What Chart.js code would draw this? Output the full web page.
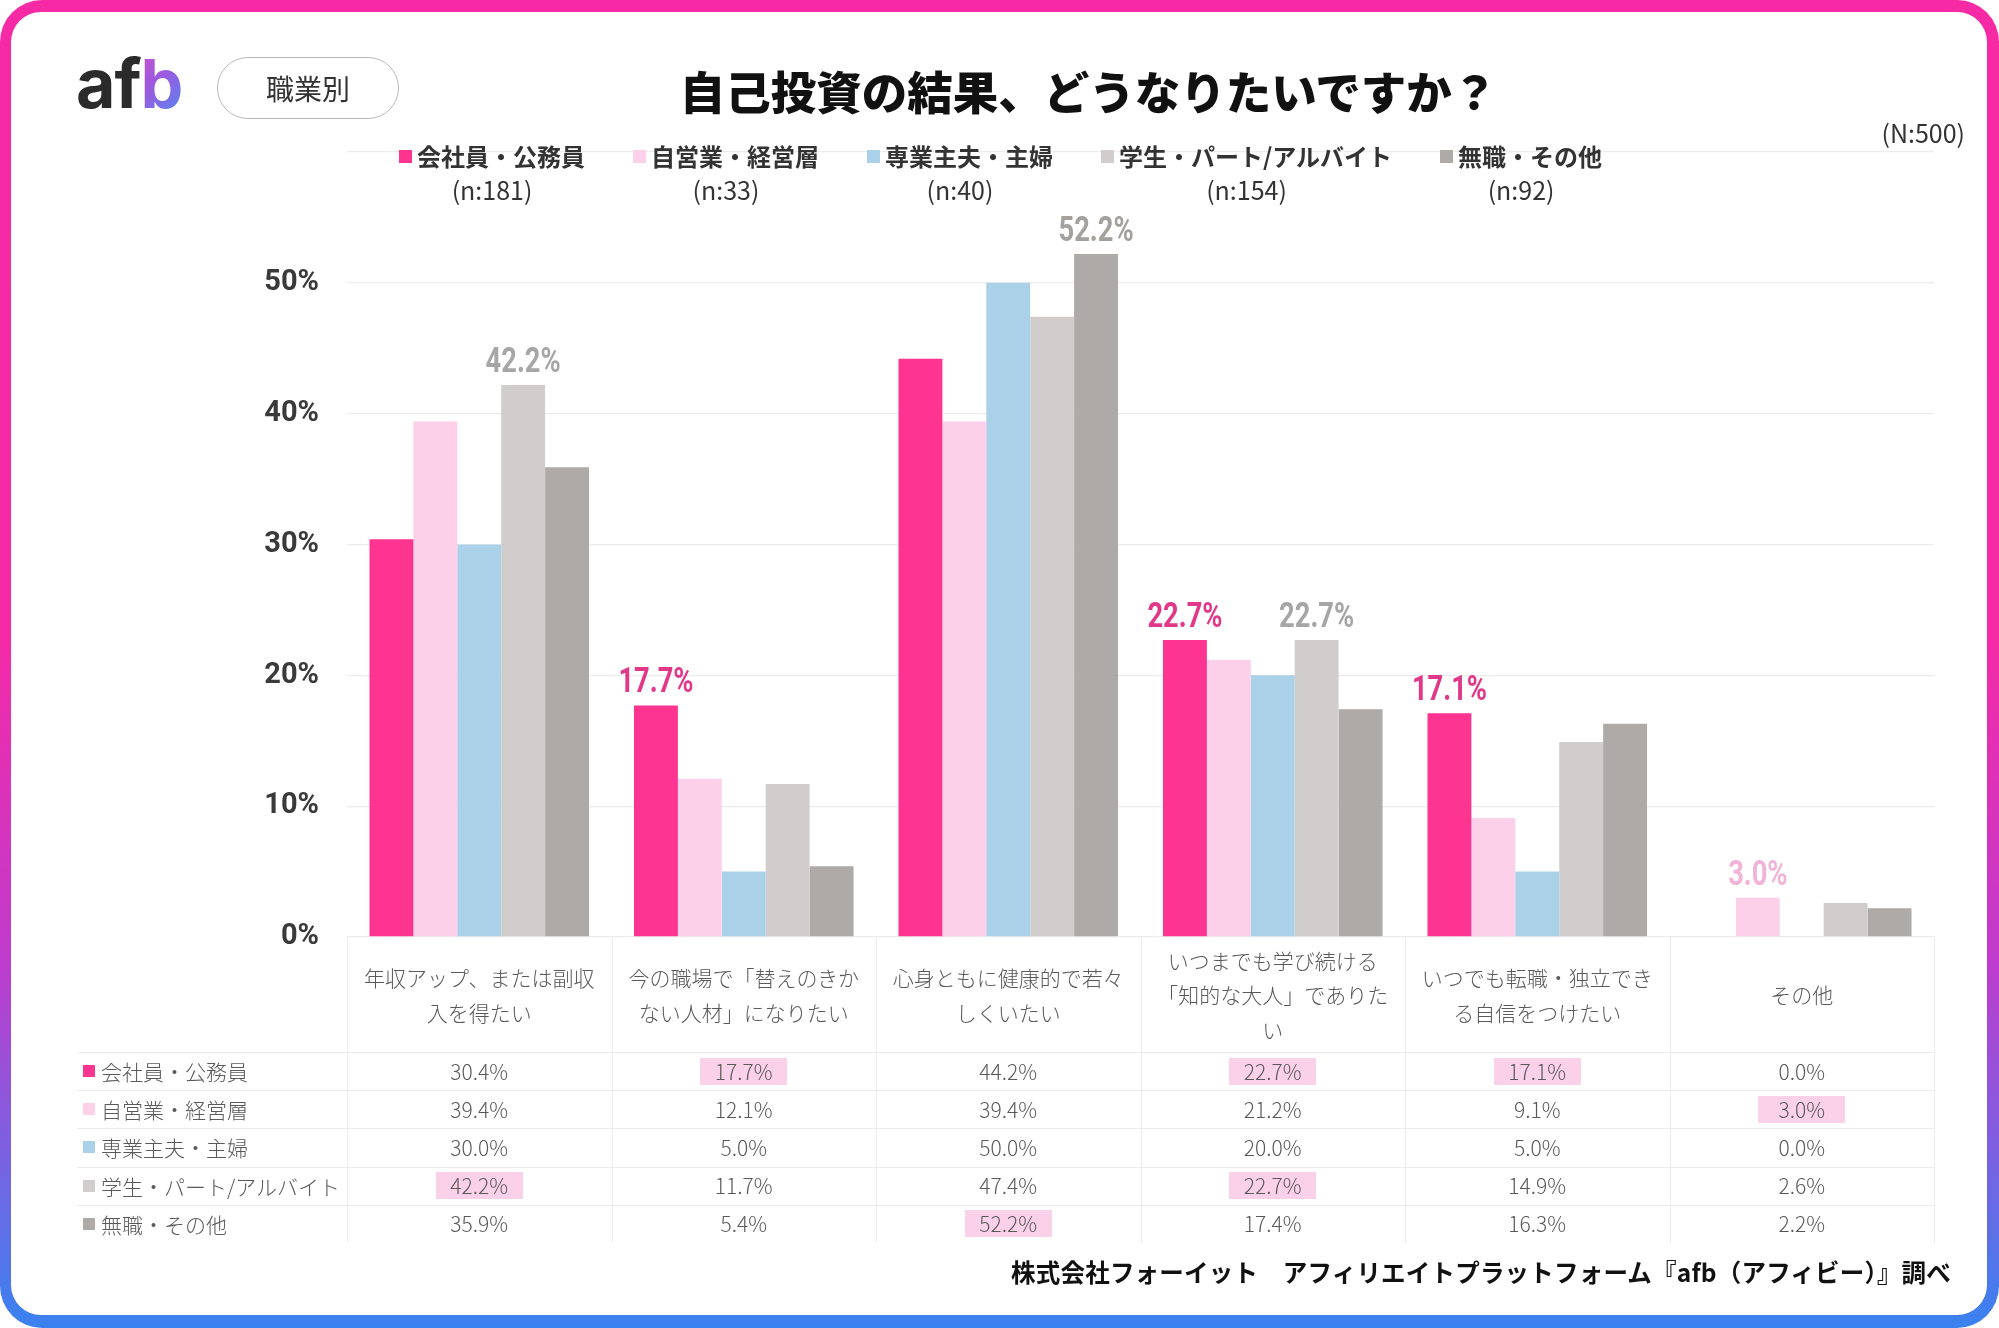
<!DOCTYPE html>
<html lang="ja"><head><meta charset="utf-8">
<script src="https://cdn.jsdelivr.net/npm/chart.js@4.4.1/dist/chart.umd.min.js"></script>
<style>
html,body{margin:0;padding:0;background:#fff;width:1999px;height:1328px;overflow:hidden;font-family:"Noto Sans CJK JP","Noto Sans",sans-serif;}
#frame{position:absolute;left:0;top:0;width:1999px;height:1328px;border-radius:42px;
  background:linear-gradient(to bottom,#f72aa5 0%,#f52aa7 48%,#c03bcc 72%,#7f5fe0 86%,#3a82f0 100%);}
#card{position:absolute;left:11px;top:12px;right:12px;bottom:13px;background:#fff;border-radius:30px;}
#c{position:absolute;left:0;top:0;}
.abs{position:absolute;}
#logo{left:76px;top:38px;font-family:Inter,Lato,sans-serif;font-weight:700;font-size:68px;line-height:90px;color:#2b2b2b;letter-spacing:-1px;}
#logo b{font-weight:700;background:linear-gradient(135deg,#d04fc8 0%,#9b5ae0 45%,#4a8ef2 100%);-webkit-background-clip:text;background-clip:text;color:transparent;}
#pill{left:217px;top:57px;width:180px;height:60px;border:1.5px solid #b8b8b8;border-radius:32px;display:flex;align-items:center;justify-content:center;font-size:28px;color:#333;}
#title{left:0;width:1999px;top:60px;text-align:center;padding-left:178px;box-sizing:border-box;font-size:45.5px;font-weight:900;color:#111;line-height:60px;}
#nall{right:34px;top:116px;font-size:25px;color:#333;line-height:32px;}
#legend{left:399px;top:139px;display:flex;gap:48px;}
.lg{display:flex;flex-direction:column;align-items:center;}
.lg .l1{display:flex;align-items:center;font-size:24px;font-weight:700;color:#333;line-height:34px;}
.lg .l1 i{display:inline-block;width:13px;height:13px;margin-right:5px;}
.lg .l2{font-size:25px;color:#333;line-height:32px;}
.hdr{display:flex;flex-direction:column;align-items:center;justify-content:center;font-size:21px;font-weight:300;color:#595959;line-height:34.5px;text-align:center;}
.cell{display:flex;align-items:center;justify-content:center;font-size:21px;font-weight:300;color:#595959;}
.cell span{display:inline-block;width:87px;height:27px;line-height:27px;text-align:center;}
.cell span.hi{background:#fbd1ea;}
.rl{display:flex;align-items:center;font-size:21px;font-weight:300;color:#595959;}
.rl i{display:inline-block;width:12px;height:12px;margin-right:6px;}
.hl{height:1px;background:#ececec;}
.vl{width:1px;background:#ececec;}
#foot{right:48px;top:1255px;font-size:24.5px;font-weight:700;color:#111;line-height:34px;letter-spacing:0.2px;}
</style></head>
<body>
<div id="frame"></div><div id="card"></div>
<canvas id="c" width="1999" height="1328"></canvas>
<div id="logo" class="abs">af<b>b</b></div>
<div id="pill" class="abs">職業別</div>
<div id="title" class="abs">自己投資の結果、どうなりたいですか？</div>
<div id="nall" class="abs">(N:500)</div>
<div id="legend" class="abs"></div>
<div id="table"></div>
<div id="foot" class="abs">株式会社フォーイット　アフィリエイトプラットフォーム『afb（アフィビー）』調べ</div>
<script>
// ---- data ----
const categories = [
  ["年収アップ、または副収","入を得たい"],
  ["今の職場で「替えのきか","ない人材」になりたい"],
  ["心身ともに健康的で若々","しくいたい"],
  ["いつまでも学び続ける","「知的な大人」でありた","い"],
  ["いつでも転職・独立でき","る自信をつけたい"],
  ["その他"]
];
const seriesNames = ["会社員・公務員","自営業・経営層","専業主夫・主婦","学生・パート/アルバイト","無職・その他"];
const seriesN = ["(n:181)","(n:33)","(n:40)","(n:154)","(n:92)"];
const kaishain = [30.4,17.7,44.2,22.7,17.1,0.0];
const jieigyo  = [39.4,12.1,39.4,21.2,9.1,3.0];
const shufu    = [30.0,5.0,50.0,20.0,5.0,0.0];
const gakusei  = [42.2,11.7,47.4,22.7,14.9,2.6];
const mushoku  = [35.9,5.4,52.2,17.4,16.3,2.2];
const yTickValues = [0,10,20,30,40,50,60];

const seriesValues = [kaishain,jieigyo,shufu,gakusei,mushoku];
const barColors = ["#fe3590","#fdd0ea","#abd1e9","#d1cdcd","#aeaaa7"];
const labelColors = ["#e2388a","#f2b4d6","#8fbcd9","#a6a6a6","#a3a09e"];

// legend
const lgEl = document.getElementById('legend');
seriesNames.forEach((n,i)=>{
  const d=document.createElement('div'); d.className='lg';
  d.innerHTML='<div class="l1"><i style="background:'+barColors[i]+'"></i>'+n+'</div><div class="l2">'+seriesN[i]+'</div>';
  lgEl.appendChild(d);
});

const maxOf = i => Math.max(...seriesValues.map(s=>s[i]));

const labelPlugin = {
  id:'maxLabels',
  afterDatasetsDraw(chart){
    const ctx=chart.ctx;
    categories.forEach((c,i)=>{
      const mx=maxOf(i);
      seriesValues.forEach((s,d)=>{
        if(s[i]===mx){
          const bar=chart.getDatasetMeta(d).data[i];
          ctx.save();
          ctx.font='bold 35px Roboto,"Noto Sans",sans-serif';
          ctx.textAlign='center'; ctx.textBaseline='alphabetic';
          ctx.fillStyle=labelColors[d];
          ctx.translate(bar.x, bar.y-13);
          ctx.scale(0.78,1);
          ctx.fillText(s[i].toFixed(1)+'%', 0, 0);
          ctx.restore();
        }
      });
    });
  }
};

const chart = new Chart(document.getElementById('c'),{
  type:'bar',
  data:{
    labels:categories.map(c=>c.join('')),
    datasets:seriesNames.map((n,i)=>({label:n,data:seriesValues[i],backgroundColor:barColors[i],borderWidth:0,categoryPercentage:0.83,barPercentage:1.0}))
  },
  options:{
    responsive:false, animation:false, devicePixelRatio:1,
    layout:{padding:{left:0,top:152,right:65,bottom:391}},
    plugins:{legend:{display:false},tooltip:{enabled:false}},
    scales:{
      x:{display:false},
      y:{min:0,max:60,
        afterBuildTicks:s=>{s.ticks=yTickValues.map(v=>({value:v}));},
        afterFit:s=>{s.width=347;},
        ticks:{padding:28,color:'#3a3a3a',font:{family:'Roboto,"Noto Sans",sans-serif',size:29,weight:'bold'},
          callback:v=> v===60?'':v+'%'},
        grid:{color:'#ececec',drawTicks:false,lineWidth:1.3},
        border:{display:false}
      }
    }
  },
  plugins:[labelPlugin]
});

// table under the plot, aligned with the category scale
(function(){
  const ca=chart.chartArea; const xs=chart.scales.x;
  const colW=(ca.right-ca.left)/categories.length;
  const top=ca.bottom, hdrH=115, rowH=38.2, tableLeft=77;
  const T=document.getElementById('table');
  const add=(cls,style,html)=>{const d=document.createElement('div');d.className='abs '+cls;d.setAttribute('style',style);if(html)d.innerHTML=html;T.appendChild(d);return d;};
  categories.forEach((lines,i)=>{
    const cx=xs.getPixelForValue(i);
    add('hdr','left:'+(cx-colW/2)+'px;top:'+top+'px;width:'+colW+'px;height:'+hdrH+'px;',lines.map(l=>'<div>'+l+'</div>').join(''));
  });
  seriesNames.forEach((n,r)=>{
    const y=top+hdrH+r*rowH;
    add('rl','left:83px;top:'+y+'px;height:'+rowH+'px;','<i style="background:'+barColors[r]+'"></i>'+n);
    categories.forEach((c,i)=>{
      const cx=xs.getPixelForValue(i);
      const v=seriesValues[r][i];
      const hi=v===maxOf(i)?' class="hi"':'';
      add('cell','left:'+(cx-colW/2)+'px;top:'+y+'px;width:'+colW+'px;height:'+rowH+'px;','<span'+hi+'>'+v.toFixed(1)+'%</span>');
    });
  });
  for(let r=0;r<seriesNames.length;r++){
    const y=top+hdrH+r*rowH;
    add('hl','left:'+tableLeft+'px;top:'+y+'px;width:'+(ca.right-tableLeft)+'px;');
  }
  const bottom=top+hdrH+seriesNames.length*rowH;
  for(let k=0;k<=categories.length;k++){
    const x=ca.left+k*colW;
    add('vl','left:'+x+'px;top:'+top+'px;height:'+(bottom-top)+'px;');
  }
})();
</script>
</body></html>
